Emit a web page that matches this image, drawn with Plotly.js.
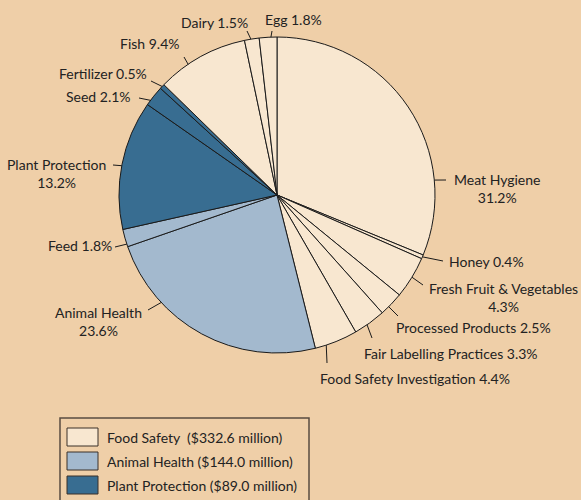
<!DOCTYPE html>
<html><head><meta charset="utf-8">
<script src="https://cdn.plot.ly/plotly-3.0.1.min.js"></script>
<style>html,body{margin:0;padding:0;background:#EFCFA8;}#chart{width:581px;height:500px;}</style>
</head><body><div id="chart"></div>
<script>
// ---- data ----
const sliceNames = ["Meat Hygiene","Honey","Fresh Fruit & Vegetables","Processed Products","Fair Labelling Practices","Food Safety Investigation","Animal Health","Feed","Plant Protection","Seed","Fertilizer","Fish","Dairy","Egg"];
const slicePercents = [31.2,0.4,4.3,2.5,3.3,4.4,23.6,1.8,13.2,2.1,0.5,9.4,1.5,1.8];
const sliceGroups = [0,0,0,0,0,0,1,1,2,2,2,0,0,0];
const groupNames = ["Food Safety\u00a0 ($332.6 million)","Animal Health ($144.0 million)","Plant Protection ($89.0 million)"];
const groupColors = ["#F8E7D0","#A3B9CE","#386D91"];

// ---- layout constants (pixels) ----
const W=581,H=500,CX=277,CY=195,R=158;
const FONT="Lato, 'Open Sans', sans-serif";
// label layout: [fraction within slice for tick start, tick end x, tick end y, text x, text y, xanchor, two-line]
const labelLayout = [
 [0.753,446,180,452,188.5,"left",true],
 [0.5,443,261,447,261,"left",false],
 [0.49,423,285,427,297.5,"left",true],
 [0.64,398,316,394,327,"left",false],
 [0.59,372,338,362,353,"left",false],
 [0.74,327,363,318,378,"left",false],
 [0.72,148,310,144,321.5,"right",true],
 [0.15,115,247,114,245,"right",false],
 [0.49,113,165,108,173,"right",true],
 [0.25,139,98,133,97,"right",false],
 [0.5,151,81,149,73,"right",false],
 [0.34,184,57,181,44,"right",false],
 [0.44,247,31,250,22,"right",false],
 [0.66,272,31,263,19,"left",false]
];
const px=x=>x/W, py=y=>1-y/H;

const total = slicePercents.reduce((a,b)=>a+b,0);
const shapes=[], annotations=[];
let cum=0;
slicePercents.forEach((v,i)=>{
  const L=labelLayout[i];
  const ang=(cum+v*L[0])/total*2*Math.PI;
  cum+=v;
  const sx=CX+R*Math.sin(ang), sy=CY-R*Math.cos(ang);
  shapes.push({type:"line",xref:"paper",yref:"paper",x0:px(sx),y0:py(sy),x1:px(L[1]),y1:py(L[2]),line:{color:"#1a1a1a",width:1}});
  const txt = L[6] ? sliceNames[i]+"<br>"+v.toFixed(1)+"%" : sliceNames[i]+" "+v.toFixed(1)+"%";
  annotations.push({xref:"paper",yref:"paper",x:px(L[3]),y:py(L[4]),xanchor:L[5],yanchor:"middle",align:"center",showarrow:false,text:txt,font:{family:FONT,size:14,color:"#222"}});
});

// legend (custom drawn)
shapes.push({type:"rect",xref:"paper",yref:"paper",x0:px(60),x1:px(309),y0:py(418),y1:py(510),line:{color:"#5a4c40",width:1.5},fillcolor:"rgba(0,0,0,0)"});
groupNames.forEach((g,k)=>{
  const top=428+24*k;
  shapes.push({type:"rect",xref:"paper",yref:"paper",x0:px(67),x1:px(98),y0:py(top),y1:py(top+18),line:{color:"#3a3028",width:1},fillcolor:groupColors[k]});
  annotations.push({xref:"paper",yref:"paper",x:px(105),y:py(top+9),xanchor:"left",yanchor:"middle",showarrow:false,text:g,font:{family:FONT,size:14,color:"#222"}});
});

const trace={type:"pie",values:slicePercents,labels:sliceNames,sort:false,direction:"clockwise",rotation:0,
  marker:{colors:sliceGroups.map(g=>groupColors[g]),line:{color:"#1a1a1a",width:1}},
  textinfo:"none",hoverinfo:"label+percent",showlegend:false,
  domain:{x:[px(CX-R),px(CX+R)],y:[py(CY+R),py(CY-R)]}};

Plotly.newPlot("chart",[trace],{width:W,height:H,margin:{l:0,r:0,t:0,b:0},paper_bgcolor:"#EFCFA8",plot_bgcolor:"#EFCFA8",
  showlegend:false,shapes:shapes,annotations:annotations},{displayModeBar:false,staticPlot:true});
</script></body></html>
